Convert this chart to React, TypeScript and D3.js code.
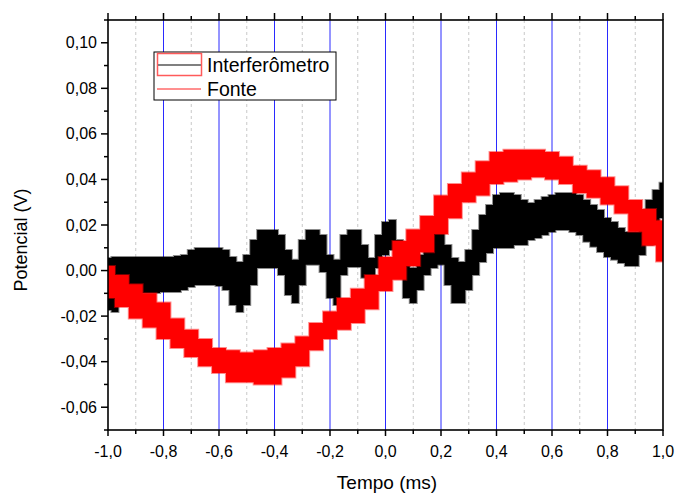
import * as d3 from "d3";

// Interferômetro: envelope of the noisy trace, sampled every 0.025 ms (-1.0 .. 1.0)
const interfTop = [
  0.0055, 0.006, 0.006, 0.006, 0.006, 0.006, 0.006, 0.006, 0.006, 0.006,
  0.0064, 0.0068, 0.009, 0.0099, 0.0099, 0.0099, 0.0099, 0.009, 0.006, 0.0038,
  0.0068, 0.0134, 0.0178, 0.0178, 0.0178, 0.0156, 0.009, 0.0047, 0.0134, 0.0178,
  0.0178, 0.0156, 0.0068, 0.0047, 0.0156, 0.0178, 0.0178, 0.0112, 0.0055, 0.0156,
  0.0213, 0.0222, 0.0134, 0.0038, 0.0011, 0.0068, 0.0156, 0.0178, 0.0169, 0.0112,
  0.0055, 0.0038, 0.009, 0.0178, 0.0244, 0.0288, 0.0332, 0.0341, 0.0341, 0.0332,
  0.031, 0.0297, 0.031, 0.0323, 0.0332, 0.0341, 0.0341, 0.0341, 0.0332, 0.031,
  0.0288, 0.0266, 0.0231, 0.0213, 0.0187, 0.0169, 0.0169, 0.0266, 0.031, 0.0354,
  0.0385,
];
const interfBottom = [
  -0.0173, -0.0182, -0.0129, -0.0098, -0.0098, -0.0098, -0.0098, -0.0098, -0.0094, -0.0094,
  -0.0094, -0.0085, -0.0072, -0.0063, -0.0063, -0.0063, -0.0068, -0.0085, -0.0151, -0.0182,
  -0.0151, -0.0063, 0.0011, 0.0011, 0.0011, -0.0019, -0.0107, -0.0142, -0.0063, 0.0025,
  0.0025, -0.0006, -0.012, -0.0151, -0.0019, 0.0016, 0.0016, -0.0032, -0.0063, 0.0011,
  0.0068, 0.009, -0.0019, -0.012, -0.0142, -0.0085, -0.0019, 0.0011, 0.0025, -0.0063,
  -0.0142, -0.0142, -0.0085, -0.0019, 0.0038, 0.0077, 0.0099, 0.0099, 0.0099, 0.0112,
  0.0112, 0.0134, 0.0143, 0.0156, 0.0169, 0.0178, 0.0178, 0.0169, 0.0156, 0.0126,
  0.0104, 0.0082, 0.006, 0.0047, 0.0033, 0.002, 0.002, 0.0068, 0.0112, 0.02,
  0.0231,
];

// Fonte: envelope sampled every 0.05 ms (-1.0 .. 1.0)
const fonteTop = [
  0.002, -0.002, -0.006, -0.01, -0.014, -0.021, -0.026, -0.03, -0.034, -0.035,
  -0.036, -0.035, -0.034, -0.032, -0.029, -0.023, -0.018, -0.012, -0.008, -0.002,
  0.006, 0.013, 0.018, 0.024, 0.033, 0.038, 0.043, 0.048, 0.052, 0.053,
  0.053, 0.053, 0.052, 0.05, 0.046, 0.044, 0.041, 0.037, 0.031, 0.027,
  0.022,
];
const fonteBottom = [
  -0.012, -0.016, -0.021, -0.025, -0.03, -0.034, -0.038, -0.042, -0.045, -0.049,
  -0.049, -0.05, -0.05, -0.047, -0.042, -0.035, -0.03, -0.026, -0.023, -0.017,
  -0.009, -0.004, 0.002, 0.008, 0.016, 0.023, 0.03, 0.033, 0.038, 0.039,
  0.04, 0.041, 0.04, 0.038, 0.034, 0.032, 0.029, 0.025, 0.017, 0.011,
  0.004,
];

const interfTimes = interfTop.map((_, i) => -1 + i * 0.025);
const fonteTimes = fonteTop.map((_, i) => -1 + i * 0.05);

const xMajor = [-1, -0.8, -0.6, -0.4, -0.2, 0, 0.2, 0.4, 0.6, 0.8, 1];
const xMinor = [-0.9, -0.7, -0.5, -0.3, -0.1, 0.1, 0.3, 0.5, 0.7, 0.9];
const yMajor = [-0.06, -0.04, -0.02, 0, 0.02, 0.04, 0.06, 0.08, 0.1];
const yMinor = [-0.07, -0.05, -0.03, -0.01, 0.01, 0.03, 0.05, 0.07, 0.09, 0.11];

const fmtX = (v: number) => d3.format(".1f")(v).replace(".", ",").replace("−", "-");
const fmtY = (v: number) => d3.format(".2f")(v).replace(".", ",").replace("−", "-");

export default function App() {
  const width = 677;
  const height = 495;
  const left = 108, right = 663, top = 20, bottom = 430;

  const x = d3.scaleLinear().domain([-1, 1]).range([left, right]);
  const y = d3.scaleLinear().domain([-0.07, 0.11]).range([bottom, top]);

  const band = (times: number[], lo: number[]) =>
    d3.area<number>()
      .x((_, i) => x(times[i]))
      .y0((_, i) => y(lo[i]))
      .y1((d) => y(d))
      .curve(d3.curveStep);

  const interfPath = band(interfTimes, interfBottom)(interfTop) || "";
  const fontePath = band(fonteTimes, fonteBottom)(fonteTop) || "";

  const font = "Arial, 'Liberation Sans', sans-serif";

  return (
    <svg width={width} height={height} style={{ position: "absolute", left: 0, top: 0, background: "#fff" }}>
      <defs>
        <clipPath id="plot">
          <rect x={left} y={top} width={right - left} height={bottom - top} />
        </clipPath>
      </defs>

      {/* grid */}
      {xMinor.map((v) => (
        <line key={"gm" + v} x1={x(v)} x2={x(v)} y1={top} y2={bottom}
          stroke="#c8c8c8" strokeWidth={1} strokeDasharray="3,3" />
      ))}
      {xMajor.slice(1, -1).map((v) => (
        <line key={"gM" + v} x1={x(v)} x2={x(v)} y1={top} y2={bottom}
          stroke="#2a2aff" strokeWidth={1} />
      ))}

      {/* series */}
      <g clipPath="url(#plot)">
        <path d={interfPath} fill="#000" stroke="#000" strokeWidth={2} strokeOpacity={0.45} />
        <path d={fontePath} fill="#ff0000" stroke="#ff0000" strokeWidth={2} strokeOpacity={0.45} />
      </g>

      {/* frame */}
      <rect x={left} y={top} width={right - left} height={bottom - top} fill="none" stroke="#000" strokeWidth={1.6} />

      {/* bottom & top ticks */}
      {xMajor.map((v) => (
        <g key={"xt" + v}>
          <line x1={x(v)} x2={x(v)} y1={bottom} y2={bottom + 6} stroke="#000" strokeWidth={1.5} />
          <line x1={x(v)} x2={x(v)} y1={top} y2={top - 7} stroke="#000" strokeWidth={1.5} />
          <text x={x(v)} y={457} textAnchor="middle" fontFamily={font} fontSize={16} fill="#000">
            {fmtX(v)}
          </text>
        </g>
      ))}
      {xMinor.map((v) => (
        <g key={"xm" + v}>
          <line x1={x(v)} x2={x(v)} y1={bottom} y2={bottom + 4} stroke="#000" strokeWidth={1.5} />
          <line x1={x(v)} x2={x(v)} y1={top} y2={top - 4} stroke="#000" strokeWidth={1.5} />
        </g>
      ))}

      {/* left ticks */}
      {yMajor.map((v) => (
        <g key={"yt" + v}>
          <line x1={left} x2={left - 7} y1={y(v)} y2={y(v)} stroke="#000" strokeWidth={1.5} />
          <text x={97} y={y(v)} dy="0.35em" textAnchor="end" fontFamily={font} fontSize={16} fill="#000">
            {fmtY(v)}
          </text>
        </g>
      ))}
      {yMinor.map((v) => (
        <line key={"ym" + v} x1={left} x2={left - 4} y1={y(v)} y2={y(v)} stroke="#000" strokeWidth={1.5} />
      ))}

      {/* axis titles */}
      <text x={387} y={489} textAnchor="middle" fontFamily={font} fontSize={19} fill="#000">
        Tempo (ms)
      </text>
      <text transform={`translate(27,${240}) rotate(-90)`} textAnchor="middle" fontFamily={font} fontSize={18} fill="#000">
        Potencial (V)
      </text>

      {/* legend */}
      <g>
        <rect x={154} y={52} width={182} height={48} fill="#fff" stroke="#000" strokeWidth={1} />
        <rect x={157.5} y={53.5} width={44} height={22} fill="none" stroke="#ff5a5a" strokeWidth={1.5} />
        <line x1={158} x2={201} y1={65} y2={65} stroke="#808080" strokeWidth={2} />
        <text x={207} y={72} fontFamily={font} fontSize={19.5} fill="#000">Interferômetro</text>
        <line x1={157} x2={201} y1={89} y2={89} stroke="#ff2020" strokeWidth={1} />
        <text x={207} y={96} fontFamily={font} fontSize={19.5} fill="#000">Fonte</text>
      </g>
    </svg>
  );
}
